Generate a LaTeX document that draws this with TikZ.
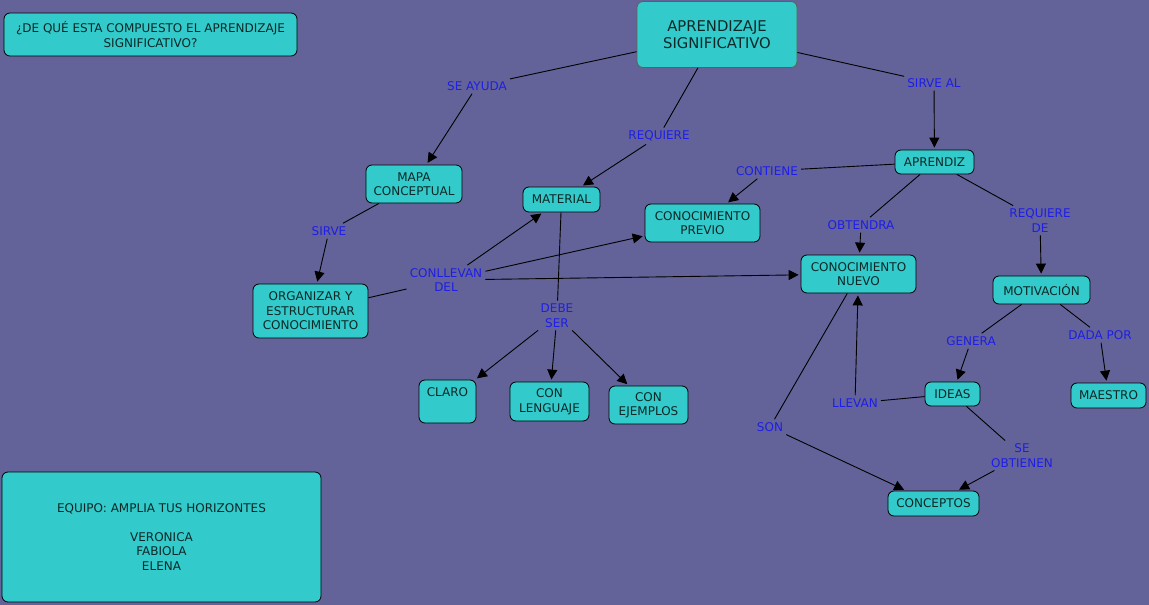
\documentclass[tikz,border=0pt]{standalone}
\usepackage{fontspec}
\setmainfont{DejaVu Sans}
\usetikzlibrary{arrows.meta}
\definecolor{bgc}{RGB}{99,99,153}
\definecolor{cfill}{RGB}{50,202,202}
\definecolor{ctext}{RGB}{14,40,40}
\definecolor{lblue}{RGB}{30,30,230}
\definecolor{mainborder}{RGB}{88,100,78}
\begin{document}
\begin{tikzpicture}[x=1pt,y=-1pt,
  concept/.style={draw=black,fill=cfill,rounded corners=6pt,line width=0.8pt,
    text=ctext,align=center,inner sep=0pt,
    font=\fontsize{12}{14.5}\selectfont},
  lbl/.style={text=lblue,align=center,inner sep=3pt,
    font=\fontsize{12}{14.5}\selectfont},
  conn/.style={draw=black,line width=0.9pt},
  arr/.style={draw=black,line width=0.9pt,-{Triangle[length=10pt,width=10pt]},shorten >=2pt}]
\useasboundingbox (0,0) rectangle (1149,605);
\fill[bgc] (0,0) rectangle (1149,605);

% concepts
\node[concept,minimum width=293,minimum height=43] (q) at (150.5,34.5) {¿DE QUÉ ESTA COMPUESTO EL APRENDIZAJE\\SIGNIFICATIVO?};
\node[concept,draw=mainborder,minimum width=160,minimum height=66,font=\fontsize{14.8}{17.5}\selectfont] (as) at (717,34.5) {APRENDIZAJE\\SIGNIFICATIVO};
\node[concept,minimum width=96,minimum height=38] (mapa) at (414,184) {MAPA\\CONCEPTUAL};
\node[concept,minimum width=77,minimum height=25] (mat) at (561.5,199.5) {MATERIAL};
\node[concept,minimum width=115,minimum height=38] (cp) at (702.5,223) {CONOCIMIENTO\\PREVIO};
\node[concept,minimum width=79,minimum height=24] (apz) at (934.5,162) {APRENDIZ};
\node[concept,minimum width=115,minimum height=38] (cn) at (858.5,274) {CONOCIMIENTO\\NUEVO};
\node[concept,minimum width=97,minimum height=28] (mot) at (1041.5,290) {MOTIVACIÓN};
\node[concept,minimum width=115,minimum height=54] (org) at (310.5,311) {ORGANIZAR Y\\ESTRUCTURAR\\CONOCIMIENTO};
\node[concept,minimum width=57,minimum height=43] (claro) at (447.5,401.5) {CLARO\\\strut};
\node[concept,minimum width=79,minimum height=39] (leng) at (549.5,401.5) {CON\\LENGUAJE};
\node[concept,minimum width=79,minimum height=38] (ejem) at (648.5,405) {CON\\EJEMPLOS};
\node[concept,minimum width=55,minimum height=24] (ideas) at (952.5,394) {IDEAS};
\node[concept,minimum width=75,minimum height=25] (maes) at (1108.5,395.5) {MAESTRO};
\node[concept,minimum width=91,minimum height=25] (concep) at (933.5,503.5) {CONCEPTOS};
\node[concept,minimum width=319,minimum height=130] (equipo) at (161.5,537) {EQUIPO: AMPLIA TUS HORIZONTES\\[14.5pt]VERONICA\\FABIOLA\\ELENA};

% linking phrases
\node[lbl] (seayuda) at (477,86) {SE AYUDA};
\node[lbl] (req) at (659,136) {REQUIERE};
\node[lbl] (sirveal) at (934,83) {SIRVE AL};
\node[lbl] (contiene) at (767,171) {CONTIENE};
\node[lbl] (obt) at (861,225) {OBTENDRA};
\node[lbl] (reqde) at (1040,220.5) {REQUIERE\\DE};
\node[lbl] (sirve) at (329,231) {SIRVE};
\node[lbl] (conll) at (446,280) {CONLLEVAN\\DEL};
\node[lbl] (debe) at (557,315.5) {DEBE\\SER};
\node[lbl] (genera) at (971,341) {GENERA};
\node[lbl] (dada) at (1100,335) {DADA POR};
\node[lbl] (llevan) at (855,403) {LLEVAN};
\node[lbl] (son) at (770,427) {SON};
\node[lbl] (seobt) at (1022,455.5) {SE\\OBTIENEN};

% connectors
\draw[conn] (as) -- (seayuda);
\draw[arr] (seayuda) -- (mapa);
\draw[conn] (as) -- (req);
\draw[arr] (req) -- (mat);
\draw[conn] (as) -- (sirveal);
\draw[arr] (sirveal) -- (apz);
\draw[conn] (apz) -- (contiene);
\draw[arr] (contiene) -- (cp);
\draw[conn] (apz) -- (obt);
\draw[arr] (obt) -- (cn);
\draw[conn] (apz) -- (reqde);
\draw[arr] (reqde) -- (mot);
\draw[conn] (mapa) -- (sirve);
\draw[arr] (sirve) -- (org);
\draw[conn] (org) -- (conll);
\draw[arr] (conll) -- (mat);
\draw[arr] (conll) -- (cp);
\draw[arr] (conll) -- (cn);
\draw[conn] (mat) -- (debe);
\draw[arr] (debe) -- (claro);
\draw[arr] (debe) -- (leng);
\draw[arr] (debe) -- (ejem);
\draw[conn] (mot) -- (genera);
\draw[arr] (genera) -- (ideas);
\draw[conn] (mot) -- (dada);
\draw[arr] (dada) -- (maes);
\draw[conn] (ideas) -- (llevan);
\draw[arr] (llevan) -- (cn);
\draw[conn] (cn) -- (son);
\draw[arr] (son) -- (concep);
\draw[conn] (ideas) -- (seobt);
\draw[arr] (seobt) -- (concep);
\end{tikzpicture}
\end{document}
